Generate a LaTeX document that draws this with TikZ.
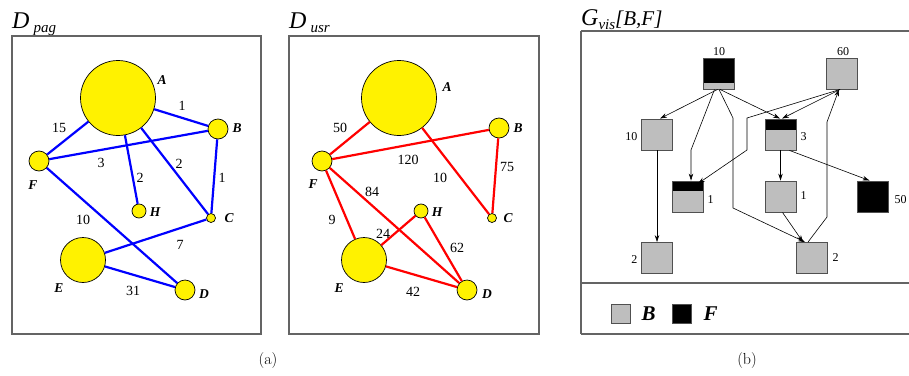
\documentclass[tikz,border=0pt]{standalone}
\usepackage{fontspec}
\setmainfont{Liberation Serif}
\newfontfamily\lmfont{Latin Modern Roman}
\usetikzlibrary{arrows.meta}
\definecolor{boxgray}{RGB}{100,100,100}
\definecolor{sqgray}{RGB}{190,190,190}
\definecolor{sqborder}{RGB}{80,80,80}
\tikzset{
  vtx/.style={circle, draw=black, fill=yellow, line width=0.7pt, inner sep=0pt, minimum size=#1},
  vlab/.style={font=\fontsize{13.5}{13.5}\selectfont\bfseries\itshape},
  elab/.style={font=\fontsize{14}{14}\selectfont},
  blueedge/.style={draw=blue, line width=2.2pt},
  rededge/.style={draw=red, line width=2.2pt},
  panel/.style={draw=boxgray, line width=1.2pt},
  sq/.style={draw=sqborder, fill=sqgray, minimum size=31pt, inner sep=0pt, line width=0.9pt},
  blk/.style={draw=sqborder, fill=black, minimum size=31pt, inner sep=0pt, line width=0.9pt},
  topblack/.style={path picture={\fill[black] (path picture bounding box.north west) rectangle ([yshift=#1]path picture bounding box.north east);}},
  slab/.style={font=\fontsize{12}{12}\selectfont},
  arr/.style={draw=black, line width=0.6pt, -{Stealth[length=7pt,width=4.5pt]}},
  ttl/.style={font=\fontsize{24}{24}\selectfont\itshape, anchor=base west, inner sep=0pt},
  captxt/.style={font=\lmfont\fontsize{16}{16}\selectfont}
}
\begin{document}
\begin{tikzpicture}[x=1pt,y=-1pt]
\useasboundingbox (0,0) rectangle (909,375);

% ---------- Panel (a) left: D_pag ----------
\node[ttl] (t1) at (12,28) {D\,\raisebox{-4pt}{\fontsize{15}{15}\selectfont pag}};
\draw[panel] (12,36) rectangle (261,334);
\node[vtx=75pt] (pA) at (118,98) {};
\node[vtx=20pt] (pB) at (218,129) {};
\node[vtx=20pt] (pF) at (39,161) {};
\node[vtx=14pt] (pH) at (139,211) {};
\node[vtx=9pt]  (pC) at (211,218) {};
\node[vtx=45pt] (pE) at (83,260) {};
\node[vtx=20pt] (pD) at (185,290) {};
\path[blueedge] (pA) -- (pB);
\path[blueedge] (pA) -- (pF);
\path[blueedge] (pF) -- (pB);
\path[blueedge] (pA) -- (pH);
\path[blueedge] (pA) -- (pC);
\path[blueedge] (pB) -- (pC);
\path[blueedge] (pF) -- (pD);
\path[blueedge] (pE) -- (pC);
\path[blueedge] (pE) -- (pD);
\node[vlab] (lpA) at (162,80) {A};
\node[vlab] (lpB) at (237,128) {B};
\node[vlab] (lpF) at (33,185) {F};
\node[vlab] (lpH) at (155,212) {H};
\node[vlab] (lpC) at (229,218) {C};
\node[vlab] (lpE) at (59,288) {E};
\node[vlab] (lpD) at (204,294) {D};
\node[elab] (e1) at (182,106) {1};
\node[elab] (e2) at (59,128) {15};
\node[elab] (e3) at (101,163) {3};
\node[elab] (e4) at (140,178) {2};
\node[elab] (e5) at (179,164) {2};
\node[elab] (e6) at (222,178) {1};
\node[elab] (e7) at (83,220) {10};
\node[elab] (e8) at (180,245) {7};
\node[elab] (e9) at (133,291) {31};

% ---------- Panel (a) right: D_usr ----------
\node[ttl] (t2) at (289,28) {D\,\raisebox{-4pt}{\fontsize{15}{15}\selectfont usr}};
\draw[panel] (289,36) rectangle (539,334);
\node[vtx=75pt] (uA) at (399,98) {};
\node[vtx=20pt] (uB) at (499,128) {};
\node[vtx=20pt] (uF) at (322,161) {};
\node[vtx=14pt] (uH) at (421,211) {};
\node[vtx=9pt]  (uC) at (492,218) {};
\node[vtx=45pt] (uE) at (364,260) {};
\node[vtx=20pt] (uD) at (467,290) {};
\path[rededge] (uA) -- (uF);
\path[rededge] (uF) -- (uB);
\path[rededge] (uA) -- (uC);
\path[rededge] (uB) -- (uC);
\path[rededge] (uF) -- (uE);
\path[rededge] (uF) -- (uD);
\path[rededge] (uE) -- (uH);
\path[rededge] (uH) -- (uD);
\path[rededge] (uE) -- (uD);
\node[vlab] (luA) at (447,87) {A};
\node[vlab] (luB) at (518,128) {B};
\node[vlab] (luF) at (313,184) {F};
\node[vlab] (luH) at (437,212) {H};
\node[vlab] (luC) at (508,218) {C};
\node[vlab] (luE) at (339,288) {E};
\node[vlab] (luD) at (487,294) {D};
\node[elab] (f1) at (340,128) {50};
\node[elab] (f2) at (408,160) {120};
\node[elab] (f3) at (440,178) {10};
\node[elab] (f4) at (507,167) {75};
\node[elab] (f5) at (372,192) {84};
\node[elab] (f6) at (332,220) {9};
\node[elab] (f7) at (383,234) {24};
\node[elab] (f8) at (457,248) {62};
\node[elab] (f9) at (413,292) {42};

% ---------- Panel (b): G_vis[B,F] ----------
\node[ttl] (t3) at (581,25) {G\raisebox{-4pt}{\fontsize{15}{15}\selectfont vis}\fontsize{21}{21}\selectfont[B,F]};
\draw[panel] (581,31) -- (909,31);
\draw[panel] (581,334) -- (909,334);
\draw[panel] (581,31) -- (581,334);
\draw[panel] (581,283) -- (909,283);

\node[sq, topblack=-25pt] (n1) at (718.5,73.5) {};
\node[sq] (n2) at (841.5,73.5) {};
\node[sq] (n3) at (657,134.5) {};
\node[sq, topblack=-11pt] (n4) at (780.5,134.5) {};
\node[sq, topblack=-10pt] (n5) at (687.5,196.5) {};
\node[sq] (n6) at (780.5,196.5) {};
\node[blk] (n7) at (872.5,196.5) {};
\node[sq] (n8) at (657,258) {};
\node[sq] (n9) at (811.5,258) {};

\node[slab, anchor=south] (l1) at (719,59) {10};
\node[slab, anchor=south] (l2) at (843,59) {60};
\node[slab, anchor=east] (l3) at (641,137) {10};
\node[slab, anchor=west] (l4) at (797,137) {3};
\node[slab, anchor=west] (l5) at (704,200) {1};
\node[slab, anchor=west] (l6) at (797,196) {1};
\node[slab, anchor=west] (l7) at (891,200) {50};
\node[slab, anchor=east] (l8) at (641,260) {2};
\node[slab, anchor=west] (l9) at (829,258) {2};

\draw[arr] ([xshift=-1pt]n1.south) -- ([xshift=3pt]n3.north);
\draw[arr] ([xshift=-4pt]n1.south) -- ([xshift=3.5pt]n5.north |- 0,150) -- ([xshift=3.5pt]n5.north);
\draw[arr] ([xshift=0.5pt]n1.south) -- (733,118) -- (733,208) -- ([xshift=-6.5pt]n9.north);
\draw[arr] ([xshift=1.5pt]n1.south) -- ([xshift=-0.5pt]n4.north);
\draw[arr] ([xshift=-1.5pt]n2.south) -- ([xshift=1.5pt]n4.north);
\draw[arr] ([xshift=-1.5pt]n2.south) -- (747,118) -- (747,150) -- ([xshift=10.5pt,yshift=-3pt]n5.north);
\draw[arr] ([xshift=-3.5pt]n9.north) -- (827,217) -- (827,122) -- ([xshift=-2.5pt]n2.south);
\draw[arr] (n3.south) -- (n8.north);
\draw[arr] (n4.south) -- (n6.north);
\draw[arr] ([xshift=9pt]n4.south) -- ([xshift=-3pt]n7.north);
\draw[arr] ([xshift=2pt]n6.south) -- ([xshift=-8.5pt]n9.north);

\node[draw=sqborder, fill=sqgray, minimum size=19pt, inner sep=0pt, line width=0.9pt] (lg1) at (620.5,313.5) {};
\node[font=\fontsize{21}{21}\selectfont\bfseries\itshape, anchor=west] (lgB) at (638,314) {B};
\node[draw=sqborder, fill=black, minimum size=19pt, inner sep=0pt, line width=0.9pt] (lg2) at (681.5,313.5) {};
\node[font=\fontsize{21}{21}\selectfont\bfseries\itshape, anchor=west] (lgF) at (700,314) {F};

% ---------- Captions ----------
\node[captxt] (ca) at (268,361) {(a)};
\node[captxt] (cb) at (747,361) {(b)};
\end{tikzpicture}
\end{document}
